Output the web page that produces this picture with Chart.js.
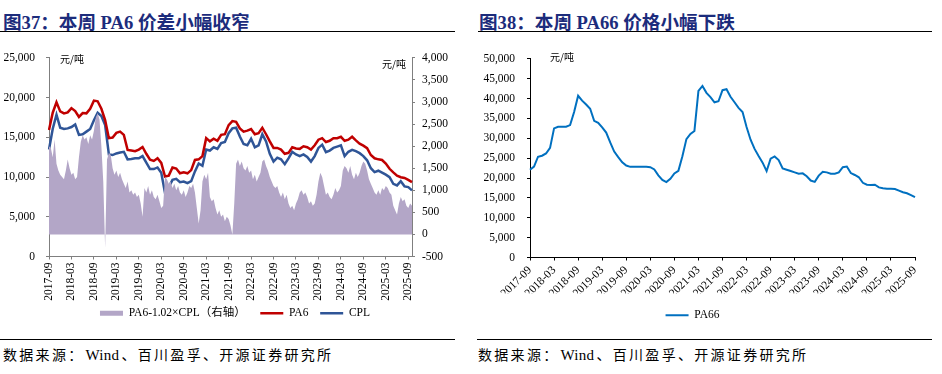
<!DOCTYPE html>
<html><head><meta charset="utf-8">
<script src="https://cdn.jsdelivr.net/npm/chart.js@4.4.1/dist/chart.umd.min.js"></script>
<style>
html,body{margin:0;padding:0;background:#fff;}
body{width:942px;height:374px;position:relative;overflow:hidden;}
.title{position:absolute;top:7px;font-family:'Liberation Serif','Noto Sans CJK SC',serif;font-weight:bold;font-size:18.6px;color:#1c2c7c;white-space:nowrap;}
.hr{position:absolute;height:0;border-top:1.5px solid #000;}
.src{position:absolute;top:344px;font-family:'Liberation Serif','Noto Sans CJK SC',serif;font-size:14px;letter-spacing:2.3px;color:#000;white-space:nowrap;}
.src span{letter-spacing:0.3px;margin:0 2px 0 1px;font-size:15px;}
.unit{position:absolute;font-family:'Noto Sans CJK SC',sans-serif;font-size:10px;color:#000;white-space:nowrap;}
canvas{position:absolute;}
</style></head><body>
<div class="title" style="left:3px">图37：本周 PA6 价差小幅收窄</div>
<div class="hr" style="left:0;top:31px;width:455px"></div>
<div class="title" style="left:479px">图38：本周 PA66 价格小幅下跌</div>
<div class="hr" style="left:478px;top:31px;width:454px"></div>
<canvas id="c1" width="470" height="289" style="left:0;top:40px"></canvas>
<canvas id="c2" width="472" height="291" style="left:470px;top:40px"></canvas>
<div class="unit" style="left:60px;top:51px">元/吨</div>
<div class="unit" style="left:382px;top:56px">元/吨</div>
<div class="unit" style="left:550px;top:49px">元/吨</div>
<div class="hr" style="left:0;top:339px;width:455px"></div>
<div class="hr" style="left:477px;top:339px;width:455px"></div>
<div class="src" style="left:3px">数据来源：<span>Wind</span>、百川盈孚、开源证券研究所</div>
<div class="src" style="left:478px">数据来源：<span>Wind</span>、百川盈孚、开源证券研究所</div>
<script>
// ---------- categories ----------
function monthRange(y0, m0, n) {
  const a = [];
  for (let i = 0; i < n; i++) {
    const t = m0 - 1 + i;
    a.push((y0 + Math.floor(t / 12)) + '-' + String(t % 12 + 1).padStart(2, '0'));
  }
  return a;
}
function halfMonths(months, n) {
  const a = [];
  for (let i = 0; i < n; i++) a.push(months[Math.floor(i / 2)] + (i % 2 ? '-16' : '-01'));
  return a;
}
const months1 = monthRange(2017, 9, 98);   // 2017-09 .. 2025-10 (monthly)
const halves1 = halfMonths(months1, 195);  // semi-monthly, same span
const months2 = monthRange(2017, 9, 97);   // 2017-09 .. 2025-09

// ---------- series (元/吨) ----------
const pa6 = [
  15930,18100,19420,18270,18020,18140,18680,18310,17570,18060,
  18020,18600,19620,19540,18600,17160,14900,14980,15560,15720,
  15310,13420,13340,13260,13460,13790,12930,12190,12030,12360,
  11780,10060,10180,11210,11080,10470,10590,10470,10880,12150,
  12230,12640,14900,14490,14820,14570,15310,15390,16540,17040,
  16950,16130,15720,15850,16050,15390,15520,16210,15390,14490,
  13670,13670,13460,12930,13050,13750,13590,13550,13870,13750,
  13460,14000,14700,14900,14410,14570,14900,14900,15070,14570,
  14700,15070,14610,14200,13960,13630,12770,12360,12230,12150,
  11700,11040,10590,10180,9980,9890,9650,9360
];
const cpl = [
  13460,16090,17860,16210,16050,16130,16300,16630,15310,15390,
  15720,16050,17160,18100,17690,16540,12850,12770,12970,13090,
  13180,12230,12270,12360,12360,12640,11820,11000,11000,11210,
  10550,8000,8740,9650,9770,9360,9440,9240,9480,10710,
  11700,11410,13460,13340,13750,13550,14290,14410,15520,16130,
  16210,15110,14160,14000,14820,13750,14000,15390,14490,12930,
  11950,12440,12230,11620,12360,13180,12850,12640,12850,12520,
  11950,12640,13670,14080,13140,13340,13670,13830,14000,12640,
  13180,13420,13260,13010,12640,12110,11120,10630,10800,10550,
  10300,9980,9150,8950,9480,8830,8740,8330
];
// PA6-1.02×CPL spread, semi-monthly (right axis)
const spread = [
  2000,1950,1750,2150,1600,1450,1350,1300,1250,1450,
  1700,1500,1350,1400,1250,1300,1750,2100,2250,2150,
  2200,2050,2250,2150,2350,2650,2750,2600,2000,1200,
  -300,1700,1850,1800,1500,1350,1450,1300,1400,1250,
  1150,1050,1200,950,1000,900,950,850,900,700,
  400,1050,950,1100,900,1000,850,800,900,750,
  600,650,1300,1250,1150,1200,1050,1150,1000,1100,
  950,900,1000,850,950,1100,1050,1150,950,600,
  250,550,1200,1350,1250,1400,850,750,800,600,
  450,550,400,450,300,400,350,200,0,700,
  1600,1700,1550,1650,1500,1450,1550,1400,1450,1250,
  1350,1200,1300,1400,1650,1700,1550,1450,1300,1200,
  1100,1050,1100,950,850,950,800,900,700,600,
  650,550,700,800,950,1000,900,950,850,700,
  750,650,700,900,1200,1400,1300,1100,900,950,
  850,800,900,1050,950,1000,1100,1450,1550,1500,
  1400,1550,1350,1250,1400,1300,1400,1550,1650,1600,
  1450,1250,1150,1050,950,900,1000,900,1050,1000,
  1100,1050,950,900,650,550,450,700,850,750,
  800,650,600,700,650
];
const pa66 = [
  22090,22900,25370,25620,26190,27590,32510,32920,32920,32920,
  33330,36620,40720,39490,38510,37440,34400,33910,32760,31440,
  28980,26680,25290,23970,23150,22820,22820,22820,22820,22820,
  22740,22170,20690,19540,18970,19790,21180,21840,25500,29800,
  31120,31860,41950,43180,41460,40390,39080,39330,42120,42360,
  40480,39080,37680,36620,32840,29640,27340,25530,23890,21760,
  24880,25450,24550,22410,22090,21760,21430,21100,21180,20440,
  19380,19050,20610,21590,21430,21100,21100,21430,22740,22910,
  21260,20770,20200,18800,18310,18230,18310,17650,17410,17320,
  17320,17240,16830,16420,16170,15680,15190
];

// ---------- axis ticks ----------
const leftTicks = [0, 5000, 10000, 15000, 20000, 25000];
const rightTicks = [-500, 0, 500, 1000, 1500, 2000, 2500, 3000, 3500, 4000];
const pa66Ticks = [0, 5000, 10000, 15000, 20000, 25000, 30000, 35000, 40000, 45000, 50000];

const serif = "'Liberation Serif','Times New Roman','Noto Sans CJK SC',serif";
const tickFont = { family: serif, size: 11.5 };
const fmt = v => Number(v).toLocaleString('en-US');
const isMajor = lbl => /-(03|09)$/.test(lbl);

function xScale(labels, rot, axisColor, h) {
  return {
    type: 'category', offset: false,
    grid: { drawOnChartArea: false, tickLength: 3, lineWidth: 1,
      color: c => (labels[c.index] && isMajor(labels[c.index])) ? axisColor : 'rgba(0,0,0,0)' },
    border: { color: axisColor, width: 1 },
    ticks: { autoSkip: false, maxRotation: rot, minRotation: rot, padding: 3, color: '#000', font: tickFont,
      callback: function (v, i) { const l = labels[i]; return isMajor(l) ? l : ''; } },
    afterFit: s => { s.height = h; }
  };
}
function yScale(pos, min, max, step, axisColor, w, pad) {
  return {
    position: pos, min: min, max: max,
    grid: { drawOnChartArea: false, tickLength: 3, color: axisColor },
    border: { color: axisColor, width: 1 },
    ticks: { stepSize: step, padding: pad, color: '#000', font: tickFont, callback: v => fmt(v) },
    afterFit: s => { s.width = w; }
  };
}
function legendOpts(pad) {
  return {
    position: 'bottom',
    labels: { usePointStyle: true, pointStyleWidth: 23, boxHeight: 5, padding: pad, color: '#000',
      font: { family: serif, size: 11.5 } }
  };
}

new Chart(document.getElementById('c1'), {
  type: 'line',
  data: {
    labels: months1,
    datasets: [
      { label: 'PA6-1.02×CPL（右轴）   ', data: spread, xAxisID: 'x2', yAxisID: 'y1', fill: 'origin',
        backgroundColor: '#b3a6c7', borderColor: '#b3a6c7', borderWidth: 0, pointRadius: 0, pointStyle: 'rect', tension: 0 },
      { label: 'PA6  ', data: pa6, yAxisID: 'y', fill: false, borderColor: '#c00000', backgroundColor: '#c00000',
        borderWidth: 2.5, pointRadius: 0, pointStyle: 'line', tension: 0 },
      { label: 'CPL', data: cpl, yAxisID: 'y', fill: false, borderColor: '#2f5597', backgroundColor: '#2f5597',
        borderWidth: 2.5, pointRadius: 0, pointStyle: 'line', tension: 0 }
    ]
  },
  options: {
    responsive: false, animation: false, devicePixelRatio: 1,
    layout: { padding: { top: 13, left: 0, right: 0, bottom: 0 } },
    plugins: { legend: legendOpts(6), tooltip: { enabled: false } },
    scales: {
      x: xScale(months1, 90, '#7f7f7f', 45),
      x2: { type: 'category', labels: halves1, offset: false, display: false },
      y: yScale('left', 0, 25000, 5000, '#7f7f7f', 49, 11),
      y1: yScale('right', -500, 4000, 500, '#7f7f7f', 58, 7)
    }
  }
});

new Chart(document.getElementById('c2'), {
  type: 'line',
  data: {
    labels: months2,
    datasets: [
      { label: 'PA66', data: pa66, fill: false, borderColor: '#0070c0', backgroundColor: '#0070c0',
        borderWidth: 2, pointRadius: 0, pointStyle: 'line', tension: 0 }
    ]
  },
  options: {
    responsive: false, animation: false, devicePixelRatio: 1,
    layout: { padding: { top: 14, left: 0, right: 27, bottom: 0 } },
    plugins: { legend: legendOpts(16), tooltip: { enabled: false } },
    scales: {
      x: xScale(months2, 45, '#000', 36),
      y: yScale('left', 0, 50000, 5000, '#000', 60, 12)
    }
  }
});
</script>
</body></html>
